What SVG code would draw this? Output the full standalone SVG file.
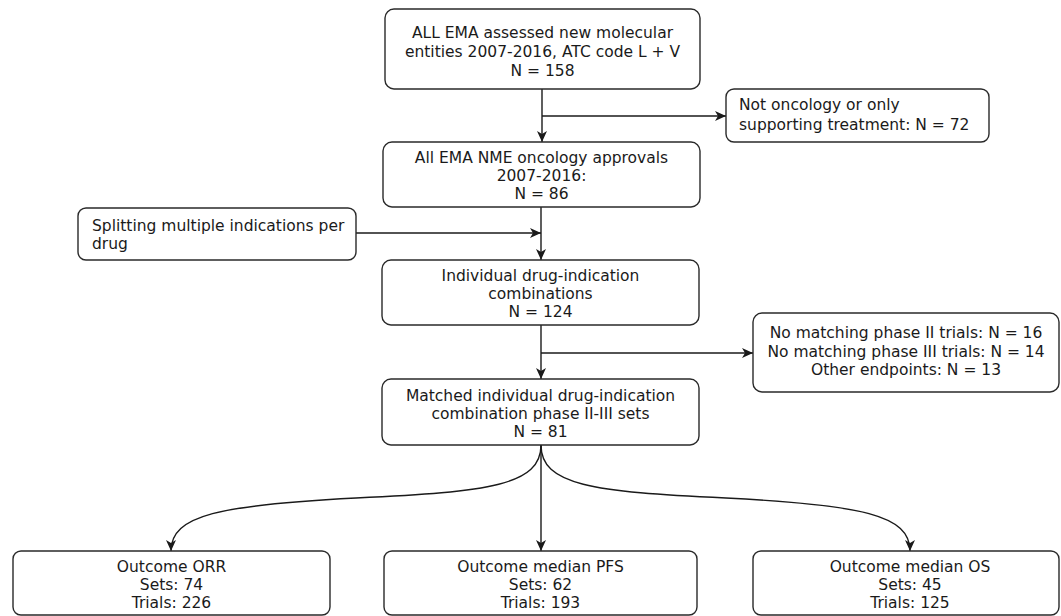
<svg xmlns="http://www.w3.org/2000/svg" width="1061" height="616" viewBox="0 0 1061 616">
<style>
.box{fill:#fff;stroke:#2a2a2a;stroke-width:1.4}
.t{font-family:"DejaVu Sans",Verdana,sans-serif;font-size:15.5px;fill:#1a1a1a}
.c{text-anchor:middle}
.e{fill:none;stroke:#1a1a1a;stroke-width:1.4}
</style>
<defs>
<marker id="ah" markerUnits="userSpaceOnUse" markerWidth="12" markerHeight="10" refX="11" refY="5" orient="auto">
<path d="M0,0 L11,5 L0,10 L3,5 Z" fill="#1a1a1a"/>
</marker>
</defs>
<rect width="1061" height="616" fill="#fff"/>
<g id="connectors">
<path class="e" d="M542,89 V142" marker-end="url(#ah)"/>
<path class="e" d="M542,116 H726" marker-end="url(#ah)"/>
<path class="e" d="M541,207 V260" marker-end="url(#ah)"/>
<path class="e" d="M356,233 H541" marker-end="url(#ah)"/>
<path class="e" d="M541,325 V379" marker-end="url(#ah)"/>
<path class="e" d="M541,353 H753" marker-end="url(#ah)"/>
<path class="e" d="M541,445 V551" marker-end="url(#ah)"/>
<path class="e" d="M541,445 C541,485 490,492 356,498 C220,505 171,515 171,551" marker-end="url(#ah)"/>
<path class="e" d="M541,445 C541,485 592,492 726,498 C862,505 910,515 910,551" marker-end="url(#ah)"/>
</g>
<g id="n1">
<rect class="box" x="385" y="9" width="315" height="80" rx="9"/>
<text class="t c" x="542.5" y="37.5">ALL EMA assessed new molecular</text>
<text class="t c" x="542.5" y="56.5">entities 2007-2016, ATC code L + V</text>
<text class="t c" x="542.5" y="75.5">N = 158</text>
</g>
<g id="n_notonc">
<rect class="box" x="726" y="89" width="263" height="53" rx="8"/>
<text class="t" x="739" y="110">Not oncology or only</text>
<text class="t" x="739" y="129.5">supporting treatment: N = 72</text>
</g>
<g id="n2">
<rect class="box" x="383" y="142" width="317" height="65" rx="9"/>
<text class="t c" x="541.5" y="162.5">All EMA NME oncology approvals</text>
<text class="t c" x="541.5" y="180.5">2007-2016:</text>
<text class="t c" x="541.5" y="198.5">N = 86</text>
</g>
<g id="n_split">
<rect class="box" x="78" y="208" width="278" height="52" rx="8"/>
<text class="t" x="92" y="230.5">Splitting multiple indications per</text>
<text class="t" x="92" y="249">drug</text>
</g>
<g id="n3">
<rect class="box" x="382" y="260" width="317" height="65" rx="9"/>
<text class="t c" x="540.5" y="281">Individual drug-indication</text>
<text class="t c" x="540.5" y="299">combinations</text>
<text class="t c" x="540.5" y="317">N = 124</text>
</g>
<g id="n_nomatch">
<rect class="box" x="753" y="313" width="306" height="79" rx="9"/>
<text class="t c" x="906" y="338">No matching phase II trials: N = 16</text>
<text class="t c" x="906" y="356.5">No matching phase III trials: N = 14</text>
<text class="t c" x="906" y="375">Other endpoints: N = 13</text>
</g>
<g id="n4">
<rect class="box" x="382" y="379" width="317" height="66" rx="9"/>
<text class="t c" x="540.5" y="401">Matched individual drug-indication</text>
<text class="t c" x="540.5" y="419">combination phase II-III sets</text>
<text class="t c" x="540.5" y="437">N = 81</text>
</g>
<g id="n_orr">
<rect class="box" x="13" y="551" width="317" height="64" rx="8"/>
<text class="t c" x="171.5" y="571.5">Outcome ORR</text>
<text class="t c" x="171.5" y="589.5">Sets: 74</text>
<text class="t c" x="171.5" y="607.5">Trials: 226</text>
</g>
<g id="n_pfs">
<rect class="box" x="384" y="551" width="313" height="64" rx="8"/>
<text class="t c" x="540.5" y="571.5">Outcome median PFS</text>
<text class="t c" x="540.5" y="589.5">Sets: 62</text>
<text class="t c" x="540.5" y="607.5">Trials: 193</text>
</g>
<g id="n_os">
<rect class="box" x="753" y="551" width="306" height="64" rx="8"/>
<text class="t c" x="910" y="571.5">Outcome median OS</text>
<text class="t c" x="910" y="589.5">Sets: 45</text>
<text class="t c" x="910" y="607.5">Trials: 125</text>
</g>
</svg>
